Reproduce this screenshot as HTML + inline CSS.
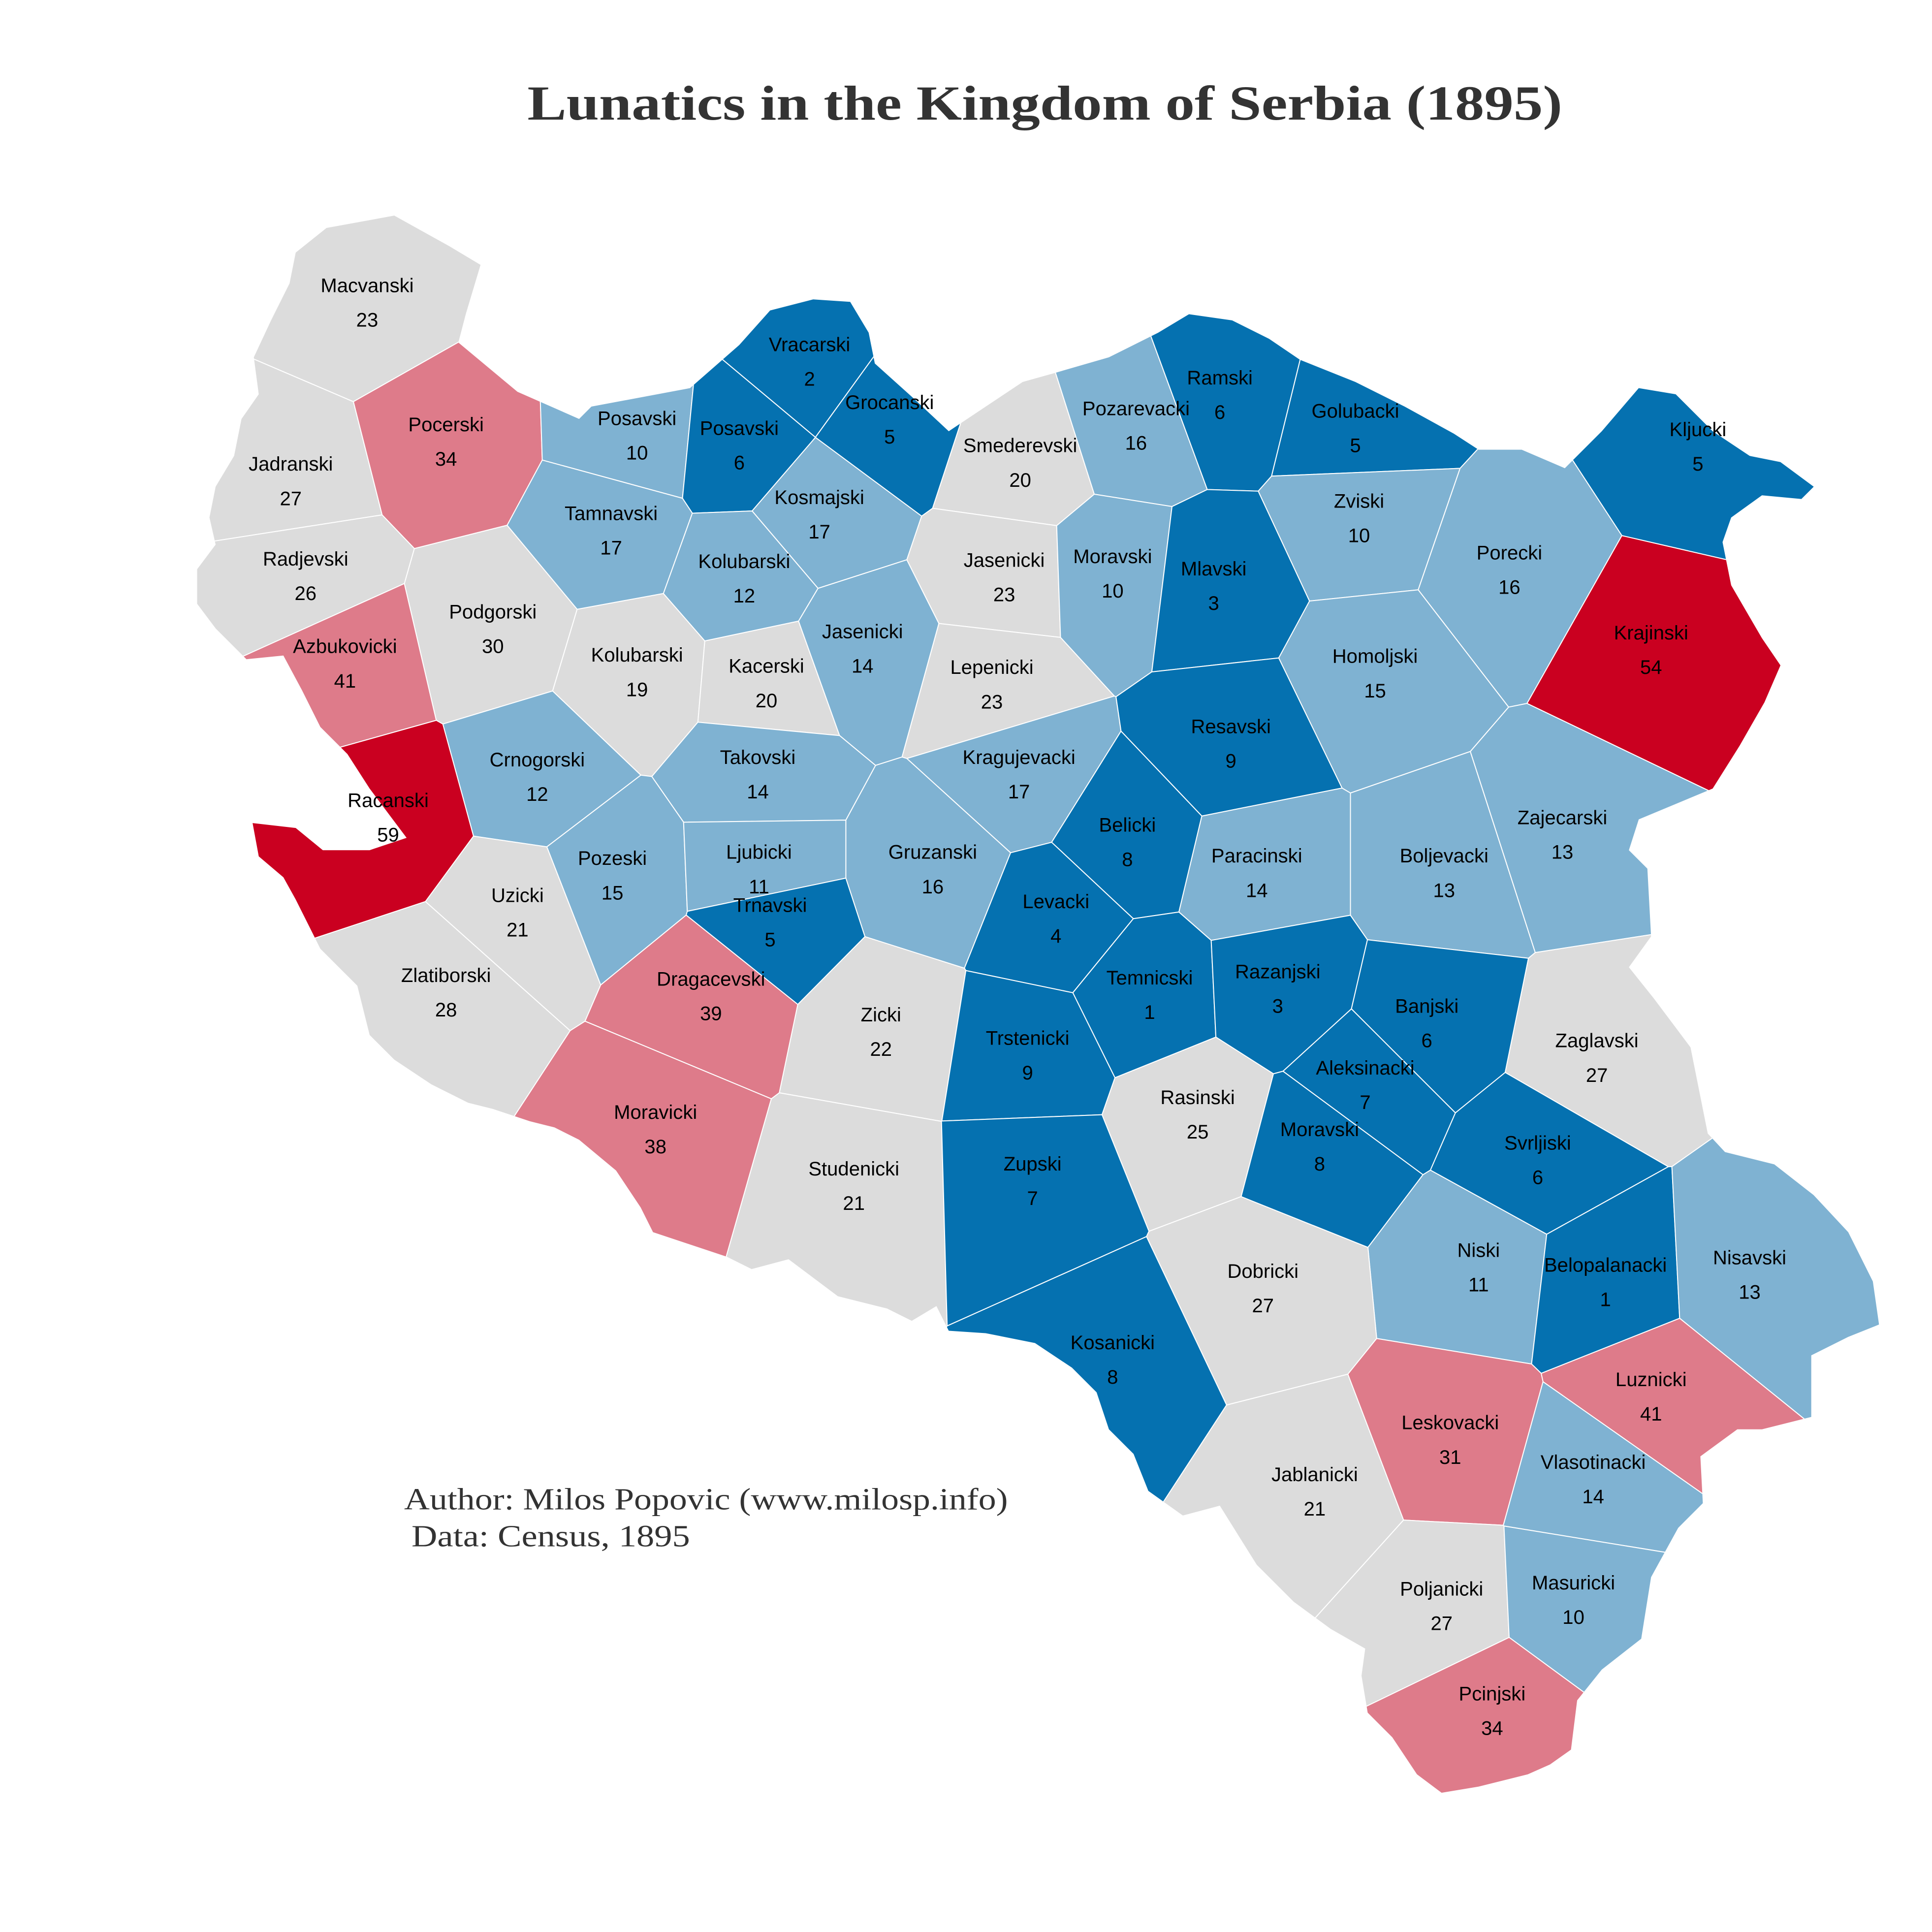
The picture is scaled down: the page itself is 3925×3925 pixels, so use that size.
<!DOCTYPE html>
<html><head><meta charset="utf-8"><style>
html,body{margin:0;padding:0;background:#fff;}
svg{display:block;}
</style></head><body>
<svg id="map" width="3925" height="3925" viewBox="0 0 1568 1568" xmlns="http://www.w3.org/2000/svg">
<text x="428" y="97" textLength="840" lengthAdjust="spacingAndGlyphs" font-family="'Liberation Serif',serif" font-weight="bold" font-size="40" fill="#333">Lunatics in the Kingdom of Serbia (1895)</text>
<defs><clipPath id="outline"><path id="outlinePath"/></clipPath></defs>
<g id="cells" clip-path="url(#outline)"></g>
<g id="labels"></g>
<text x="328" y="1225" textLength="490" lengthAdjust="spacingAndGlyphs" font-family="'Liberation Serif',serif" font-size="25" fill="#333">Author: Milos Popovic (www.milosp.info)</text>
<text x="334" y="1255" textLength="226" lengthAdjust="spacingAndGlyphs" font-family="'Liberation Serif',serif" font-size="25" fill="#333">Data: Census, 1895</text>
</svg>
<script>
const districts = ["Macvanski","Pocerski","Jadranski","Radjevski","Azbukovicki","Podgorski","Posavski","Posavski","Vracarski","Grocanski","Tamnavski","Kosmajski","Kolubarski","Kolubarski","Kacerski","Jasenicki","Smederevski","Jasenicki","Lepenicki","Pozarevacki","Ramski","Golubacki","Kljucki","Moravski","Mlavski","Zviski","Porecki","Krajinski","Homoljski","Resavski","Crnogorski","Racanski","Takovski","Kragujevacki","Belicki","Paracinski","Boljevacki","Zajecarski","Pozeski","Ljubicki","Gruzanski","Uzicki","Trnavski","Levacki","Temnicski","Razanjski","Banjski","Zaglavski","Zlatiborski","Dragacevski","Zicki","Trstenicki","Aleksinacki","Rasinski","Moravicki","Moravski","Svrljiski","Studenicki","Zupski","Niski","Belopalanacki","Nisavski","Dobricki","Kosanicki","Luznicki","Leskovacki","Vlasotinacki","Jablanicki","Poljanicki","Masuricki","Pcinjski"];
const lunatics = [23,34,27,26,41,30,10,6,2,5,17,17,12,19,20,14,20,23,23,16,6,5,5,10,3,10,16,54,15,9,12,59,14,17,8,14,13,13,15,11,16,21,5,4,1,3,6,27,28,39,22,9,7,25,38,8,6,21,7,11,1,13,27,8,41,31,14,21,27,10,34];
const labelX = [298,362,236,248,280,400,517,600,657,722,496,665,604,517,622,700,828,815,805,922,990,1100,1378,903,985,1103,1225,1340,1116,999,436,315,615,827,915,1020,1172,1268,497,616,757,420,625,857,933,1037,1158,1296,362,577,715,834,1108,972,532,1071,1248,693,838,1200,1303,1420,1025,903,1340,1177,1293,1067,1170,1277,1211];
const labelY = [245,358,390,467,538,510,353,361,293,340,430,417,469,545,554,526,375,468,555,345,320,347,362,465,475,420,462,527,546,603,630,663,628,628,683,708,708,677,710,705,705,740,748,745,807,802,830,858,805,808,837,856,880,904,916,930,941,962,958,1028,1040,1034,1045,1103,1133,1168,1200,1210,1303,1298,1388];

function colorFor(v){
  if(v<=9) return "#0571b0";
  if(v<=18) return "#7fb2d2";
  if(v<=30) return "#dcdcdc";
  if(v<=50) return "#de7b8a";
  return "#ca0020";
}
const outline = [[240,205],[265,185],[320,175],[365,200],[390,215],[378,255],[372,278],[420,318],[470,340],[480,330],[560,315],[600,280],[625,252],[660,243],[690,245],[705,270],[710,295],[740,322],[770,350],[800,330],[830,310],[855,303],[900,290],[940,270],[965,255],[1000,260],[1030,275],[1055,292],[1100,310],[1140,330],[1180,352],[1200,365],[1235,365],[1270,380],[1300,350],[1330,315],[1360,320],[1390,350],[1420,370],[1445,375],[1472,395],[1462,405],[1430,402],[1405,420],[1398,440],[1405,475],[1430,518],[1445,540],[1432,570],[1412,605],[1390,640],[1330,665],[1322,690],[1337,705],[1340,760],[1322,785],[1342,810],[1372,850],[1386,920],[1400,935],[1440,945],[1472,970],[1500,1000],[1520,1040],[1525,1075],[1500,1085],[1470,1100],[1470,1150],[1430,1160],[1410,1160],[1380,1182],[1382,1220],[1362,1240],[1340,1280],[1332,1330],[1300,1355],[1280,1380],[1275,1420],[1258,1432],[1240,1440],[1200,1450],[1170,1455],[1150,1440],[1130,1410],[1110,1390],[1105,1360],[1108,1338],[1080,1322],[1050,1300],[1020,1270],[1000,1238],[990,1222],[960,1230],[932,1210],[920,1180],[900,1160],[890,1130],[870,1110],[840,1090],[800,1082],[770,1080],[760,1060],[740,1072],[720,1062],[680,1052],[640,1022],[610,1030],[590,1020],[560,1010],[530,1000],[520,980],[500,950],[470,925],[450,915],[430,910],[400,900],[380,895],[350,880],[320,860],[300,840],[290,800],[260,770],[240,730],[230,712],[210,695],[205,668],[240,672],[262,690],[300,690],[330,680],[300,640],[282,612],[260,590],[245,560],[230,532],[200,535],[175,510],[160,490],[160,462],[175,442],[170,420],[175,395],[190,370],[196,340],[210,320],[206,290],[220,260],[235,230]];
document.getElementById('outlinePath').setAttribute('d','M'+outline.map(p=>p.join(',')).join('L')+'Z');

function clip(poly, a, b, c){
  const out=[];
  for(let i=0;i<poly.length;i++){
    const P=poly[i], Q=poly[(i+1)%poly.length];
    const fp=a*P[0]+b*P[1]-c, fq=a*Q[0]+b*Q[1]-c;
    if(fp<=0) out.push(P);
    if((fp<0&&fq>0)||(fp>0&&fq<0)){
      const t=fp/(fp-fq);
      out.push([P[0]+t*(Q[0]-P[0]),P[1]+t*(Q[1]-P[1])]);
    }
  }
  return out;
}
const NS='http://www.w3.org/2000/svg';
const cells=document.getElementById('cells'), labels=document.getElementById('labels');
for(let i=0;i<districts.length;i++){
  let poly=[[0,0],[1568,0],[1568,1568],[0,1568]];
  const xi=labelX[i], yi=labelY[i];
  for(let j=0;j<districts.length;j++){
    if(i===j) continue;
    const xj=labelX[j], yj=labelY[j];
    const a=xj-xi, b=yj-yi;
    const c=(xj*xj+yj*yj-xi*xi-yi*yi)/2;
    poly=clip(poly,a,b,c);
    if(!poly.length) break;
  }
  const p=document.createElementNS(NS,'path');
  p.setAttribute('d','M'+poly.map(q=>q[0].toFixed(1)+','+q[1].toFixed(1)).join('L')+'Z');
  p.setAttribute('fill',colorFor(lunatics[i]));
  p.setAttribute('stroke','#ffffff');
  p.setAttribute('stroke-width','0.8');
  
  
  cells.appendChild(p);

  const t=document.createElementNS(NS,'text');
  t.setAttribute('x',xi);
  t.setAttribute('y',yi-8);
  t.setAttribute('text-anchor','middle');
  t.setAttribute('font-family',"'Liberation Sans',sans-serif");
  t.setAttribute('font-size','16');
  t.setAttribute('fill','#000');
  t.textContent=districts[i];
  
  
  labels.appendChild(t);
  const v=document.createElementNS(NS,'text');
  v.setAttribute('x',xi);
  v.setAttribute('y',yi+20);
  v.setAttribute('text-anchor','middle');
  v.setAttribute('font-family',"'Liberation Sans',sans-serif");
  v.setAttribute('font-size','16');
  v.setAttribute('fill','#000');
  v.textContent=lunatics[i];
  
  
  labels.appendChild(v);
}
</script>
</body></html>
